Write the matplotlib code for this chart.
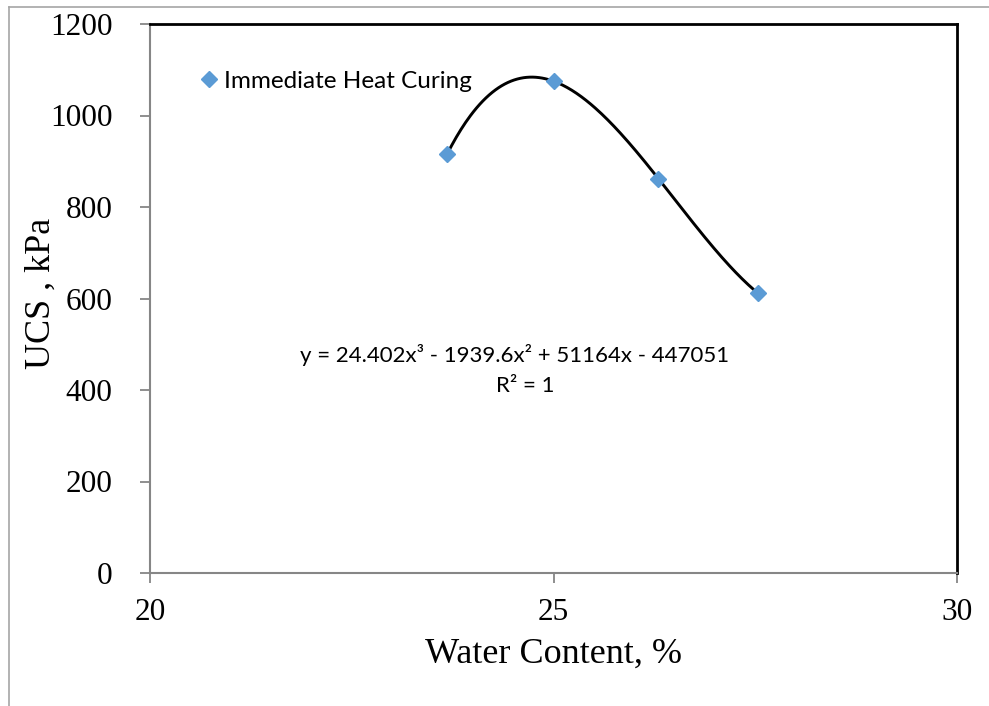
import numpy as np
import matplotlib.pyplot as plt
from matplotlib.lines import Line2D

# UCS test results, immediate heat curing
water_content = [23.68, 25.0, 26.3, 27.53]
ucs = [915, 1075, 862, 612]

x_ticks = [20, 25, 30]
y_ticks = [0, 200, 400, 600, 800, 1000, 1200]

serif = ['Liberation Serif', 'DejaVu Serif']
sans = ['Lato', 'DejaVu Sans']

fig = plt.figure(figsize=(9.89, 7.06), dpi=100)
ax = fig.add_axes([150 / 989, 133 / 706, 807 / 989, 549 / 706])

# cubic trendline through the points
coef = np.polyfit(water_content, ucs, 3)
xs = np.linspace(min(water_content), max(water_content), 200)
ax.plot(xs, np.polyval(coef, xs), color='black', lw=2.1, zorder=2)

ax.plot(water_content, ucs, linestyle='none', marker='D', ms=8.5,
        color='#5B9BD5', label='Immediate Heat Curing', zorder=3)

ax.set_xlim(20, 30)
ax.set_ylim(0, 1200)
ax.set_xticks(x_ticks)
ax.set_yticks(y_ticks)
for lab in ax.get_xticklabels() + ax.get_yticklabels():
    lab.set_family(serif)
    lab.set_fontsize(22.5)

ax.tick_params(axis='both', direction='out', length=7, width=1.3, color='#868686')
ax.tick_params(axis='y', pad=20)
ax.tick_params(axis='x', pad=11)

for side in ['left', 'bottom']:
    ax.spines[side].set_color('#868686')
    ax.spines[side].set_linewidth(1.5)
for side in ['top', 'right']:
    ax.spines[side].set_color('black')
    ax.spines[side].set_linewidth(2)

ax.set_xlabel('Water Content, %', family=serif, fontsize=26)
ax.set_ylabel('UCS , kPa', family=serif, fontsize=26)
ax.xaxis.set_label_coords(0.5, -0.118)
ax.yaxis.set_label_coords(-0.114, 0.51)

ax.legend(loc='upper left', bbox_to_anchor=(0.047, 0.937), frameon=False,
          handlelength=0.7, handletextpad=0.3, borderpad=0,
          prop={'family': sans, 'size': 17.5})

ax.text(0.452, 0.397, 'y = 24.402x³ - 1939.6x² + 51164x - 447051',
        transform=ax.transAxes, ha='center', va='center',
        family=sans, fontsize=16)
ax.text(0.465, 0.34, 'R² = 1', transform=ax.transAxes, ha='center',
        va='center', family=sans, fontsize=16)

# chart area border
fig.add_artist(Line2D([9 / 989, 1], [1 - 7 / 706, 1 - 7 / 706],
                      transform=fig.transFigure, color='#A6A6A6', lw=1.2))
fig.add_artist(Line2D([9 / 989, 9 / 989], [0, 1 - 7 / 706],
                      transform=fig.transFigure, color='#A6A6A6', lw=1.2))

fig.savefig('out.png', dpi=100)
